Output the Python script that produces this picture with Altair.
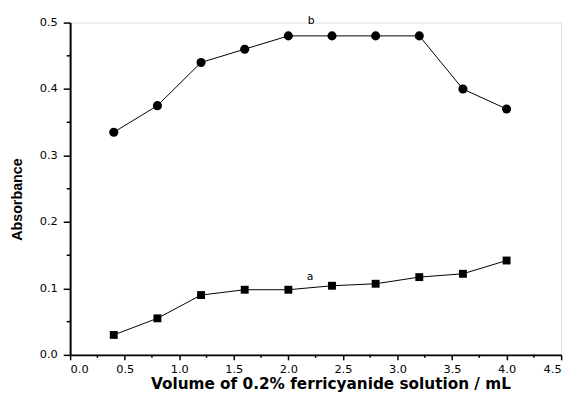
import altair as alt
import pandas as pd

x_vals = [0.4, 0.8, 1.2, 1.6, 2.0, 2.4, 2.8, 3.2, 3.6, 4.0]
a_vals = [0.030, 0.055, 0.090, 0.098, 0.098, 0.104, 0.107, 0.117, 0.122, 0.142]
b_vals = [0.335, 0.375, 0.440, 0.460, 0.480, 0.480, 0.480, 0.480, 0.400, 0.370]

x_major = [0.0, 0.5, 1.0, 1.5, 2.0, 2.5, 3.0, 3.5, 4.0, 4.5]
x_minor = [0.25, 0.75, 1.25, 1.75, 2.25, 2.75, 3.25, 3.75, 4.25]
y_major = [0.0, 0.1, 0.2, 0.3, 0.4, 0.5]
y_minor = [0.05, 0.15, 0.25, 0.35, 0.45]

label_text = ["a", "b"]
label_x = [2.20, 2.21]
label_y = [0.117, 0.502]

df_a = pd.DataFrame({"x": x_vals, "y": a_vals})
df_b = pd.DataFrame({"x": x_vals, "y": b_vals})
df_lab = pd.DataFrame({"x": label_x, "y": label_y, "t": label_text})
df_xmin = pd.DataFrame({"x": x_minor})
df_ymin = pd.DataFrame({"y": y_minor})

LFONT = "DejaVu Sans"
TFONT = "DejaVu Sans"
H = 337
xs = alt.Scale(domain=[0, 4.5], nice=False, zero=False)
ys = alt.Scale(domain=[0, 0.5], nice=False, zero=False)

x_axis = alt.Axis(values=x_major, format=".1f", grid=False, tickSize=5, tickWidth=1.5,
                  domainWidth=2, domainColor="black", tickColor="black",
                  labelFont=LFONT, labelFontSize=11.5, labelColor="black", labelPadding=4,
                  titleFont=TFONT, titleFontSize=15.5, titleFontWeight="bold",
                  titleColor="black", titlePadding=2, titleX=264)
y_axis = alt.Axis(values=y_major, format=".1f", grid=False, tickSize=7, tickWidth=1.5,
                  domainWidth=2, domainColor="black", tickColor="black",
                  labelFont=LFONT, labelFontSize=11.5, labelColor="black", labelPadding=6,
                  titleFont="Liberation Sans", titleFontSize=14.5, titleFontWeight="bold",
                  titleColor="black", titlePadding=15, titleY=179)

line_a = alt.Chart(df_a).mark_line(color="black", strokeWidth=1).encode(
    x=alt.X("x:Q", scale=xs, axis=x_axis, title="Volume of 0.2% ferricyanide solution / mL"),
    y=alt.Y("y:Q", scale=ys, axis=y_axis, title="Absorbance"),
)
pts_a = alt.Chart(df_a).mark_point(shape="square", filled=True, color="black", size=64, opacity=1).encode(
    x=alt.X("x:Q", scale=xs), y=alt.Y("y:Q", scale=ys))
line_b = alt.Chart(df_b).mark_line(color="black", strokeWidth=1).encode(
    x=alt.X("x:Q", scale=xs), y=alt.Y("y:Q", scale=ys))
pts_b = alt.Chart(df_b).mark_point(shape="circle", filled=True, color="black", size=85, opacity=1).encode(
    x=alt.X("x:Q", scale=xs), y=alt.Y("y:Q", scale=ys))
labels = alt.Chart(df_lab).mark_text(font=LFONT, fontSize=11, color="black").encode(
    x=alt.X("x:Q", scale=xs), y=alt.Y("y:Q", scale=ys), text="t:N")

x_minor_ticks = alt.Chart(df_xmin).mark_rule(color="black", strokeWidth=1.5).encode(
    x=alt.X("x:Q", scale=xs), y=alt.value(H), y2=alt.value(H + 3))
y_minor_ticks = alt.Chart(df_ymin).mark_rule(color="black", strokeWidth=1.5).encode(
    y=alt.Y("y:Q", scale=ys), x=alt.value(-3.5), x2=alt.value(0))

chart = alt.layer(line_a, pts_a, line_b, pts_b, labels, x_minor_ticks, y_minor_ticks).properties(
    width=498, height=H,
    autosize=alt.AutoSizeParams(type="none"),
    padding={"left": 63, "top": 12, "right": 10, "bottom": 45},
).configure_view(stroke=None).configure(background="white")

chart.save("out.html", embed_options={"renderer": "svg", "actions": False})
